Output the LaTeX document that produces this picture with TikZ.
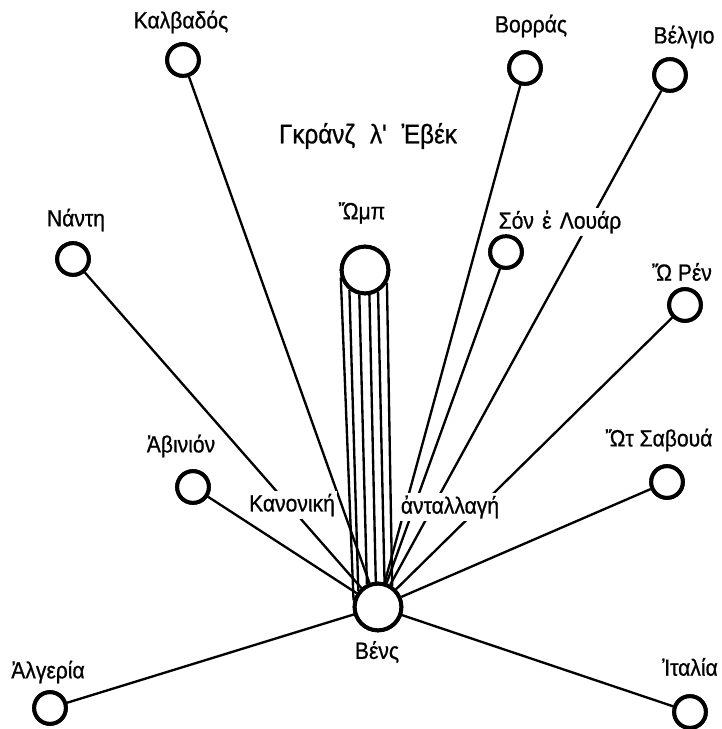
\documentclass[tikz,border=0pt]{standalone}
\usepackage{fontspec}
\setmainfont{Liberation Sans}
\newfontfamily\labfont{Liberation Sans}[FakeStretch=0.9,FakeBold=0.8]
\begin{document}
\begin{tikzpicture}[x=0.03cm,y=-0.03cm,
  town/.style={circle,draw,line width=3.4pt,fill=white,inner sep=0pt,minimum size=0.95cm},
  hub/.style={town,minimum size=1.4cm},
  lab/.style={font=\labfont\fontsize{20}{24}\selectfont,inner sep=1pt},
  wlab/.style={lab,fill=white,inner sep=2pt},
  link/.style={line width=2pt}]
\useasboundingbox (0,0) rectangle (721,729);
% circles
\node[hub]  (ven) at (378,607) {};
\node[hub]  (omp) at (365,270) {};
\node[town] (kal) at (183,60) {};
\node[town] (bor) at (525,68) {};
\node[town] (bel) at (670,75) {};
\node[town] (nan) at (73,259) {};
\node[town] (son) at (506,252) {};
\node[town] (ren) at (685,305) {};
\node[town] (avi) at (193,487) {};
\node[town] (sav) at (667,482) {};
\node[town] (alg) at (50,708) {};
\node[town] (ita) at (690,712) {};
% connectors
\foreach \t in {kal,bor,bel,nan,son,ren,avi,sav,alg,ita}
  \draw[link] (\t) -- (ven);
\draw[link] (omp.197) -- (ven.165);
\draw[link] (omp.232) -- (ven.141);
\draw[link] (omp.257) -- (ven.116);
\draw[link] (omp.280) -- (ven.95);
\draw[link] (omp.301) -- (ven.75);
\draw[link] (omp.330) -- (ven.56);
% labels
\node[lab] (lkal) at (181,22) {Καλβαδός};
\node[lab] (lbor) at (531,26) {Βορράς};
\node[lab] (lbel) at (684,37) {Βέλγιο};
\node[lab,font=\labfont\fontsize{23}{27}\selectfont] (ltitle) at (368,136) {Γκράνζ\hspace{0.55em}λ'\hspace{0.55em}Ἐβέκ};
\node[lab] (lomp) at (362,213) {Ὤμπ};
\node[wlab] (lson) at (560,222) {Σόν\hspace{0.35em}ἐ\hspace{0.35em}Λουάρ};
\node[lab] (lren) at (682,272) {Ὤ Ρέν};
\node[lab] (lnan) at (76,220) {Νάντη};
\node[lab] (lavi) at (181,446) {Ἀβινιόν};
\node[wlab] (lkan) at (292,505) {Κανονική};
\node[wlab] (lant) at (450,507) {ἀνταλλαγή};
\node[lab] (lsav) at (659,440) {Ὤτ Σαβουά};
\node[lab] (lven) at (377,652) {Βένς};
\node[lab] (lalg) at (48,672) {Ἀλγερία};
\node[lab] (lita) at (690,667) {Ἰταλία};
% redraw circles on top
\foreach \t in {kal,bor,bel,nan,son,ren,avi,sav,alg,ita}
  \node[town] at (\t) {};
\node[hub] at (ven) {};
\node[hub] at (omp) {};
\end{tikzpicture}
\end{document}
